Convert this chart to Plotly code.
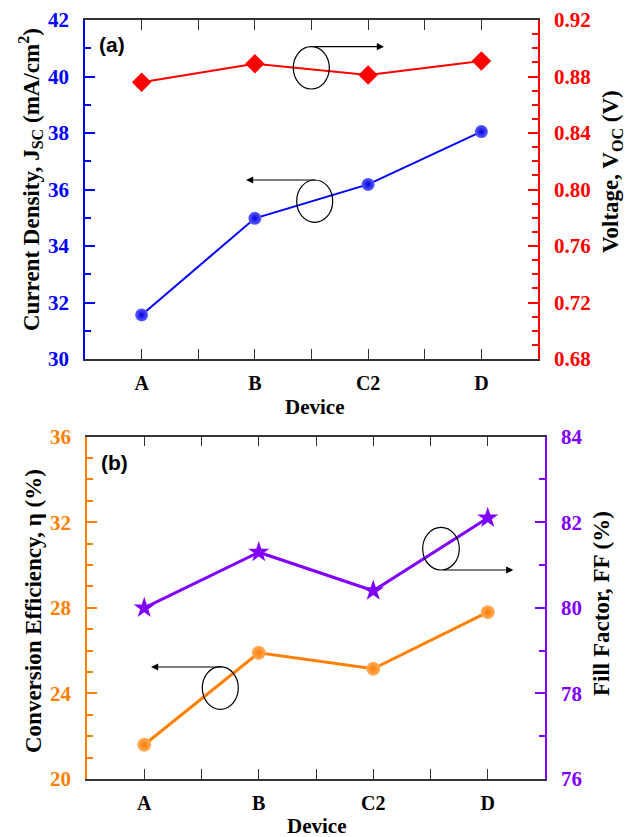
import plotly.graph_objects as go

devices = ["A", "B", "C2", "D"]
jsc = [31.56, 34.98, 36.18, 38.05]
voc = [0.876, 0.889, 0.881, 0.891]
eta = [21.6, 25.9, 25.15, 27.8]
ff = [80.0, 81.3, 80.4, 82.1]

W, H = 639, 837
def px(x): return x / W
def py(y): return 1 - y / H

SERIF = "Liberation Serif"
BLUE, RED, ORANGE, PURPLE = "#0000ff", "#ff0000", "#ff8000", "#8000ff"
xpos = list(range(len(devices)))

fig = go.Figure()
fig.add_trace(go.Scatter(x=xpos, y=jsc, xaxis="x", yaxis="y", mode="lines+markers",
                         line=dict(color=BLUE, width=2),
                         marker=dict(symbol="circle", size=13, color="#6060ff",
                                     gradient=dict(type="radial", color="#0000e0"))))
fig.add_trace(go.Scatter(x=xpos, y=voc, xaxis="x", yaxis="y2", mode="lines+markers",
                         line=dict(color=RED, width=2),
                         marker=dict(symbol="diamond", size=15, color=RED)))
fig.add_trace(go.Scatter(x=xpos, y=eta, xaxis="x2", yaxis="y3", mode="lines+markers",
                         line=dict(color=ORANGE, width=3),
                         marker=dict(symbol="circle", size=14, color="#ffb060",
                                     gradient=dict(type="radial", color="#ff7a00"))))
fig.add_trace(go.Scatter(x=xpos, y=ff, xaxis="x2", yaxis="y4", mode="lines+markers",
                         line=dict(color=PURPLE, width=3),
                         marker=dict(symbol="star", size=16, color=PURPLE)))

def xaxis(domain, anchor):
    return dict(domain=domain, anchor=anchor, range=[-0.5, 3.5], automargin=False,
                tickmode="array", tickvals=xpos, ticktext=devices,
                ticks="inside", ticklen=10, tickcolor="#333", tickwidth=1,
                showline=True, linecolor="#333", linewidth=1.5, mirror="allticks",
                showgrid=False, zeroline=False,
                tickfont=dict(family=SERIF, size=20, color="black", weight="bold"),
                ticklabelstandoff=5,
                minor=dict(tickmode="array", tickvals=[0.5, 1.5, 2.5], ticks="inside",
                           ticklen=4, tickcolor="#333"))

def yaxis(domain, anchor, rng, dtick, color, side="left", overlaying=None, mdtick=None, fmt=None):
    d = dict(domain=domain, anchor=anchor, range=rng, dtick=dtick, tick0=rng[0],
             side=side, ticks="inside", ticklen=10, tickcolor=color, tickwidth=1.5,
             showline=True, linecolor=color, linewidth=1.5, automargin=False,
             showgrid=False, zeroline=False,
             tickfont=dict(family=SERIF, size=21, color=color, weight="bold"),
             ticklabelstandoff=10,
             minor=dict(dtick=mdtick, tick0=rng[0], ticks="inside", ticklen=6,
                        tickcolor=color, tickwidth=1.5))
    if fmt:
        d["tickformat"] = fmt
    if overlaying:
        d["overlaying"] = overlaying
    return d

xd1 = [px(85), px(538)]
yd1 = [py(359), py(20)]
xd2 = [px(87), px(545)]
yd2 = [py(779), py(436.7)]

fig.update_layout(
    width=W, height=H, margin=dict(l=0, r=0, t=0, b=0),
    paper_bgcolor="white", plot_bgcolor="white", showlegend=False,
    xaxis=xaxis(xd1, "y"),
    xaxis2=xaxis(xd2, "y3"),
    yaxis=yaxis(yd1, "x", [30, 42], 2, BLUE, mdtick=1),
    yaxis2=yaxis(yd1, "x", [0.68, 0.92], 0.04, RED, side="right", overlaying="y",
                 mdtick=0.01, fmt=".2f"),
    yaxis3=yaxis(yd2, "x2", [20, 36], 4, ORANGE, mdtick=1),
    yaxis4=yaxis(yd2, "x2", [76, 84], 2, PURPLE, side="right", overlaying="y3", mdtick=1),
)

vfont = dict(family=SERIF, size=23, color="black", weight="bold")
hfont = dict(family=SERIF, size=21, color="black", weight="bold")
ann = [
    dict(x=px(30), y=py(180), text="Current Density, J<sub>SC</sub> (mA/cm<sup>2</sup>)", textangle=-90, font=vfont),
    dict(x=px(612), y=py(172), text="Voltage, V<sub>OC</sub> (V)", textangle=-90, font=vfont),
    dict(x=px(314), y=py(407), text="Device", textangle=0, font=hfont),
    dict(x=px(33), y=py(611), text="Conversion Efficiency, η (%)", textangle=-90, font=vfont),
    dict(x=px(601), y=py(604), text="Fill Factor, FF (%)", textangle=-90, font=vfont),
    dict(x=px(316), y=py(826), text="Device", textangle=0, font=hfont),
]
for a in ann:
    fig.add_annotation(xref="paper", yref="paper", showarrow=False,
                       xanchor="center", yanchor="middle", **a)

for t, x, y in [("(a)", 112, 44), ("(b)", 115, 462)]:
    fig.add_annotation(xref="paper", yref="paper", x=px(x), y=py(y), text=t, showarrow=False,
                       font=dict(family="Liberation Sans", size=21, color="black", weight="bold"),
                       xanchor="center", yanchor="middle")

# ellipses
for x0, y0, x1, y1 in [(293.3, 46.7, 329.3, 89), (296.7, 180, 332.7, 222.3),
                       (202.3, 666.7, 238.3, 709.3), (422.7, 527.3, 459.3, 570)]:
    fig.add_shape(type="circle", xref="paper", yref="paper",
                  x0=px(x0), x1=px(x1), y0=py(y1), y1=py(y0),
                  line=dict(color="black", width=1.2))

# arrows (tail -> head)
for (tx, ty), (hx, hy) in [((311.7, 46.7), (384, 46.7)), ((316.7, 180), (246, 180)),
                           ((223.3, 667), (151, 667)), ((441.7, 570), (513.3, 570))]:
    fig.add_annotation(xref="paper", yref="paper", x=px(hx), y=py(hy),
                       ax=tx - hx, ay=ty - hy, axref="pixel", ayref="pixel",
                       text="", showarrow=True, arrowhead=2, arrowsize=1.2,
                       arrowwidth=1.2, arrowcolor="black")

fig.write_html("out.html")
